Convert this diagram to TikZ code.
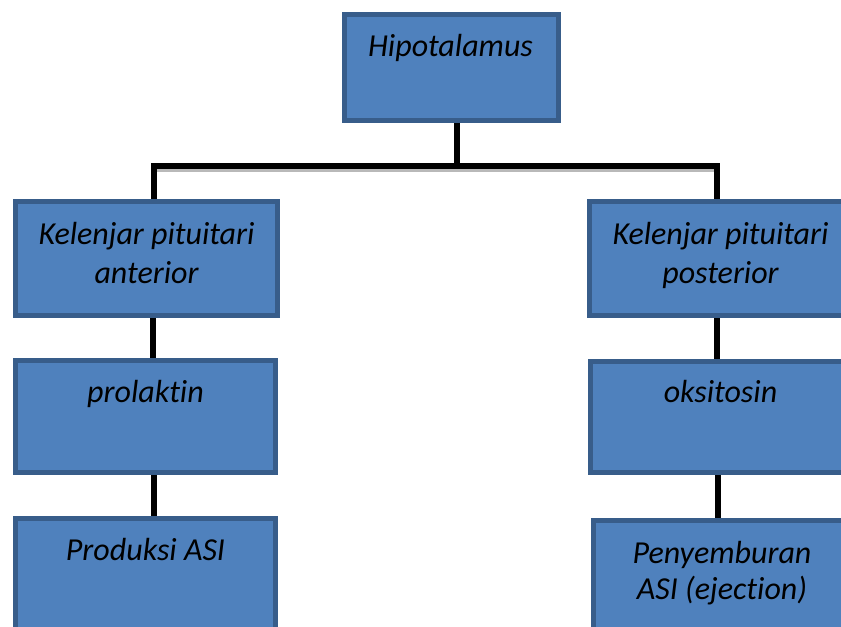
\documentclass[tikz,border=0pt]{standalone}
\usepackage{fontspec}
\setmainfont{Carlito}[Ligatures={NoCommon,NoDiscretionary}]
\definecolor{boxfill}{HTML}{4F81BD}
\definecolor{boxline}{HTML}{385D8A}
\tikzset{
  box/.style={draw=boxline, fill=boxfill, line width=3.75pt, rectangle, inner sep=0pt},
  lbl/.style={font=\fontsize{24}{29}\selectfont\itshape, anchor=base, align=center, inner sep=0pt},
  conn/.style={line width=3.8pt, black},
}
\begin{document}
\begin{tikzpicture}[x=0.75pt, y=-0.75pt]
\useasboundingbox (0,0) rectangle (841,627);
\clip (0,0) rectangle (841,627);
% connectors
\coordinate (j) at (457,166);
\coordinate (jL) at (154,166);
\coordinate (jR) at (717,166);
% boxes
\node[box, minimum width=160.5pt, minimum height=79.5pt] (A) at (451.5,67.5) {};
\node[box, minimum width=196.5pt, minimum height=85.5pt] (B) at (146.5,258.5) {};
\node[box, minimum width=196.5pt, minimum height=85.5pt] (C) at (720.5,258.5) {};
\node[box, minimum width=195pt, minimum height=84pt] (D) at (145.5,416.5) {};
\node[box, minimum width=195pt, minimum height=83.25pt] (E) at (720.5,417) {};
\node[box, minimum width=195pt, minimum height=104.25pt] (F) at (145.5,588) {};
\node[box, minimum width=195pt, minimum height=102.75pt] (G) at (723.5,589) {};
\draw[gray!55, line width=3pt] ([yshift=-3pt]jL) -- ([yshift=-3pt]jR);
\draw[conn] (A.south -| j) -- (j);
\draw[conn] (B.north -| jL) -- (jL) -- (jR) -- (C.north -| jR);
\draw[conn] (B.south -| 153,0) -- (D.north -| 153,0);
\draw[conn] (D.south -| 154,0) -- (F.north -| 154,0);
\draw[conn] (C.south -| 717,0) -- (E.north -| 717,0);
\draw[conn] (E.south -| 718,0) -- (G.north -| 718,0);
% labels
\node[lbl] (tA) at (450.5,57) {Hipotalamus};
\node[lbl] (tB) at (146.5,283) {Kelenjar pituitari\\anterior};
\node[lbl] (tC) at (720.5,283) {Kelenjar pituitari\\posterior};
\node[lbl] (tD) at (145.5,402) {prolaktin};
\node[lbl] (tE) at (720.5,402) {oksitosin};
\node[lbl] (tF) at (145.5,560) {Produksi ASI};
\node[lbl, font=\fontsize{24}{27}\selectfont\itshape] (tG) at (722,599) {Penyemburan\\ASI (ejection)};
\end{tikzpicture}
\end{document}
